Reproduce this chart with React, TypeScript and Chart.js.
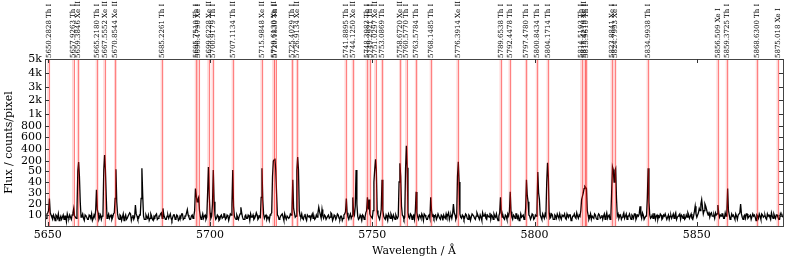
import React, { useEffect, useRef } from "react";
import { Chart, registerables } from "chart.js";

Chart.register(...registerables);

const WAVE_START = 5649.0;
const WAVE_STEP = 0.5;

// flux at whole steps (5649.0, 5649.5, ...)
const FLUX = [
  9, 7, 12, 25, 10, 6, 8, 10, 7, 5, 9, 8, 6, 9, 11, 7, 8, 10, 16, 8,
  14, 185, 22, 9, 7, 10, 8, 6, 9, 11, 7, 8, 33, 12, 8, 6, 10, 300, 28, 9,
  7, 10, 8, 12, 75, 11, 6, 9, 8, 5, 10, 7, 9, 11, 8, 6, 19, 9, 7, 10,
  90, 9, 6, 8, 10, 7, 9, 5, 8, 11, 7, 9, 12, 16, 8, 6, 10, 9, 7, 8,
  10, 7, 9, 6, 8, 11, 7, 9, 15, 8, 6, 10, 9, 34, 22, 26, 9, 8, 7, 10,
  8, 110, 12, 9, 65, 10, 7, 9, 6, 10, 8, 11, 7, 9, 8, 10, 65, 9, 6, 8,
  9, 17, 8, 6, 10, 7, 9, 11, 8, 6, 9, 10, 7, 8, 90, 11, 9, 6, 8, 10,
  12, 200, 240, 30, 9, 7, 10, 8, 11, 6, 9, 8, 10, 42, 12, 9, 265, 14, 8, 7,
  9, 7, 10, 8, 6, 11, 9, 7, 8, 17, 10, 15, 7, 9, 6, 10, 8, 11, 7, 9,
  8, 10, 6, 9, 7, 11, 25, 8, 9, 7, 26, 10, 65, 9, 7, 8, 10, 6, 12, 26,
  24, 9, 7, 40, 230, 14, 8, 10, 42, 9, 6, 8, 11, 7, 9, 10, 6, 8, 9, 165,
  18, 9, 8, 455, 12, 7, 10, 9, 6, 31, 8, 10, 7, 9, 11, 8, 6, 10, 26, 9,
  7, 10, 8, 11, 6, 9, 10, 7, 8, 12, 9, 7, 20, 10, 8, 190, 11, 7, 9, 8,
  10, 6, 9, 8, 11, 7, 9, 10, 6, 8, 12, 9, 7, 10, 8, 6, 9, 11, 8, 7,
  9, 26, 8, 7, 10, 6, 9, 31, 8, 10, 7, 11, 9, 6, 8, 10, 7, 42, 22, 9,
  8, 10, 7, 9, 49, 24, 8, 11, 7, 9, 175, 12, 8, 10, 6, 9, 11, 7, 8, 10,
  9, 7, 11, 8, 10, 6, 9, 8, 12, 7, 9, 24, 30, 36, 34, 10, 8, 6, 9, 11,
  7, 9, 10, 8, 6, 11, 9, 7, 10, 8, 115, 40, 90, 9, 7, 10, 8, 12, 9, 6,
  9, 8, 10, 7, 11, 8, 9, 18, 7, 10, 6, 9, 90, 10, 8, 7, 11, 9, 6, 8,
  10, 7, 9, 11, 8, 6, 10, 9, 7, 12, 8, 10, 6, 9, 11, 7, 8, 10, 9, 7,
  9, 18, 8, 12, 14, 24, 11, 20, 15, 10, 8, 12, 9, 7, 10, 19, 8, 9, 11, 7,
  9, 34, 10, 7, 9, 8, 11, 6, 10, 20, 8, 9, 7, 11, 8, 10, 6, 9, 8, 10,
  7, 9, 11, 8, 10, 6, 9, 8, 12, 7, 9, 10, 8, 6, 9, 8,
];

// flux at the half steps in between (5649.25, 5649.75, ...)
const FLUX_HALF = [
  6, 11, 14, 12, 8, 10, 5, 9, 11, 7, 6, 10, 9, 4, 8, 10, 6, 12, 9, 7,
  50, 45, 8, 11, 5, 9, 6, 10, 7, 5, 10, 14, 15, 6, 10, 9, 70, 80, 7, 11,
  9, 6, 11, 25, 22, 7, 10, 5, 11, 8, 6, 9, 12, 5, 10, 8, 11, 6, 10, 25,
  28, 6, 10, 7, 5, 11, 6, 9, 10, 6, 9, 11, 7, 10, 6, 9, 7, 11, 5, 10,
  6, 10, 5, 9, 11, 6, 9, 12, 10, 6, 9, 7, 14, 28, 24, 14, 6, 11, 9, 6,
  30, 28, 7, 20, 22, 6, 10, 5, 9, 7, 11, 6, 10, 5, 11, 20, 18, 7, 10, 6,
  11, 12, 6, 9, 7, 10, 5, 8, 10, 7, 12, 6, 9, 26, 24, 7, 10, 8, 5, 11,
  45, 220, 60, 10, 6, 9, 11, 5, 8, 9, 7, 11, 15, 16, 8, 60, 70, 9, 11, 6,
  11, 5, 9, 10, 9, 7, 6, 10, 12, 13, 7, 9, 10, 6, 9, 7, 12, 5, 10, 6,
  11, 7, 9, 5, 10, 13, 12, 6, 11, 9, 12, 18, 20, 6, 10, 5, 9, 8, 14, 15,
  11, 8, 14, 80, 50, 10, 6, 15, 14, 7, 10, 5, 9, 11, 6, 8, 10, 7, 40, 45,
  10, 6, 90, 100, 8, 11, 6, 10, 13, 12, 6, 9, 11, 5, 10, 6, 9, 7, 14, 10,
  9, 6, 11, 7, 10, 5, 8, 11, 10, 6, 10, 11, 12, 6, 45, 40, 8, 10, 6, 11,
  7, 10, 5, 11, 9, 6, 12, 8, 10, 5, 9, 11, 6, 9, 12, 10, 6, 9, 11, 5,
  12, 12, 10, 6, 9, 11, 13, 13, 6, 9, 11, 7, 5, 11, 9, 6, 16, 28, 10, 6,
  11, 6, 10, 16, 30, 10, 6, 9, 11, 40, 45, 7, 11, 6, 10, 7, 9, 11, 6, 9,
  11, 6, 9, 10, 5, 9, 11, 7, 9, 10, 14, 27, 34, 35, 14, 6, 11, 9, 7, 10,
  6, 11, 7, 10, 9, 6, 12, 9, 6, 30, 70, 60, 25, 11, 9, 6, 10, 7, 11, 9,
  11, 6, 9, 11, 6, 10, 11, 10, 12, 6, 9, 25, 22, 7, 10, 11, 6, 10, 9, 11,
  6, 10, 11, 6, 10, 9, 7, 11, 10, 6, 9, 11, 10, 7, 6, 10, 12, 7, 11, 6,
  13, 11, 10, 16, 20, 17, 14, 18, 12, 13, 11, 9, 10, 12, 11, 12, 10, 11, 7, 12,
  12, 14, 6, 11, 10, 6, 9, 10, 12, 11, 6, 10, 11, 7, 9, 6, 11, 10, 5, 9,
  11, 6, 10, 9, 7, 11, 10, 6, 9, 11, 7, 10, 6, 11, 10,
];

const LINE_WAVES = [
  5650.2828, 5657.9263, 5659.3846, 5665.218, 5667.5552, 5670.8544, 5685.2261,
  5695.751, 5696.479, 5699.6228, 5700.9179, 5707.1134, 5715.9848, 5719.613,
  5720.183, 5725.4029, 5726.9134, 5741.8895, 5744.125, 5748.3983, 5749.2921,
  5751.0297, 5753.0869, 5758.672, 5760.577, 5763.5784, 5768.1485, 5776.3914,
  5789.6538, 5792.4478, 5797.478, 5800.8434, 5804.1714, 5814.5193, 5815.4219,
  5815.961, 5823.8841, 5824.7993, 5834.9938, 5856.509, 5859.3725, 5868.63,
  5875.018,
];

const LINE_LABELS = [
  "5650.2828 Th I", "5657.9263 Th I", "5659.3846 Xe II", "5665.2180 Th I",
  "5667.5552 Xe II", "5670.8544 Xe II", "5685.2261 Th I", "5695.7510 Th I",
  "5696.4790 Xe I", "5699.6228 Xe II", "5700.9179 Th I", "5707.1134 Th II",
  "5715.9848 Xe II", "5719.6130 Xe II", "5720.1830 Th I", "5725.4029 Th I",
  "5726.9134 Xe II", "5741.8895 Th I", "5744.1250 Xe II", "5748.3983 Th I",
  "5749.2921 Th I", "5751.0297 Xe II", "5753.0869 Th I", "5758.6720 Xe II",
  "5760.5770 Th I", "5763.5784 Th I", "5768.1485 Th I", "5776.3914 Xe II",
  "5789.6538 Th I", "5792.4478 Th I", "5797.4780 Th I", "5800.8434 Th I",
  "5804.1714 Th I", "5814.5193 Th I", "5815.4219 Xe II", "5815.9610 Th I",
  "5823.8841 Xe I", "5824.7993 Xe I", "5834.9938 Th I", "5856.509 Xe I",
  "5859.3725 Th I", "5868.6300 Th I", "5875.018 Xe I",
];

const X_MIN = 5649.14;
const X_MAX = 5876.56;
const X_TICKS = [5650, 5700, 5750, 5800, 5850];

const Y_TICK_VALUES = [10, 20, 30, 40, 50, 200, 400, 600, 800, 1000, 2000, 3000, 4000, 5000];
const Y_TICK_LABELS = ["10", "20", "30", "40", "50", "200", "400", "600", "800", "1k", "2k", "3k", "4k", "5k"];

// piecewise axis scale: flux value -> axis unit
const Y_KNOT_VALUES = [0, 10, 20, 30, 40, 50, 200, 400, 600, 800, 1000, 2000, 3000, 4000, 5000];
const Y_KNOT_UNITS = [0, 11, 22, 33, 44, 55, 65, 77, 89, 100, 112, 126, 139, 153, 167];

function toAxis(v: number): number {
  if (v <= Y_KNOT_VALUES[0]) return Y_KNOT_UNITS[0];
  for (let k = 1; k < Y_KNOT_VALUES.length; k++) {
    if (v <= Y_KNOT_VALUES[k]) {
      const a = Y_KNOT_VALUES[k - 1];
      const b = Y_KNOT_VALUES[k];
      const t = (v - a) / (b - a);
      return Y_KNOT_UNITS[k - 1] + t * (Y_KNOT_UNITS[k] - Y_KNOT_UNITS[k - 1]);
    }
  }
  return Y_KNOT_UNITS[Y_KNOT_UNITS.length - 1];
}

const SERIF = '"DejaVu Serif", serif';

const decorPlugin = {
  id: "decor",
  afterDatasetsDraw(chart: any) {
    const { ctx, chartArea, scales } = chart;
    const xs = scales.x;
    ctx.save();
    ctx.beginPath();
    ctx.rect(chartArea.left, chartArea.top, chartArea.right - chartArea.left, chartArea.bottom - chartArea.top);
    ctx.clip();
    LINE_WAVES.forEach((w) => {
      const px = xs.getPixelForValue(w);
      ctx.fillStyle = "rgba(255,0,0,0.16)";
      ctx.fillRect(px - 1.5, chartArea.top, 3, chartArea.bottom - chartArea.top);
      ctx.strokeStyle = "rgba(255,0,0,0.4)";
      ctx.lineWidth = 1;
      ctx.beginPath();
      ctx.moveTo(Math.round(px) + 0.5, chartArea.top);
      ctx.lineTo(Math.round(px) + 0.5, chartArea.bottom);
      ctx.stroke();
    });
    ctx.restore();
  },
  afterDraw(chart: any) {
    const { ctx, chartArea, scales } = chart;
    const xs = scales.x;
    const ys = scales.y;
    const L = chartArea.left, R = chartArea.right, T = chartArea.top, B = chartArea.bottom;
    ctx.save();
    ctx.strokeStyle = "#444";
    ctx.lineWidth = 1;
    ctx.strokeRect(Math.round(L) + 0.5, Math.round(T) + 0.5, Math.round(R - L), Math.round(B - T));
    ctx.strokeStyle = "#333";
    ctx.beginPath();
    Y_TICK_VALUES.forEach((v) => {
      const py = Math.round(ys.getPixelForValue(toAxis(v))) + 0.5;
      ctx.moveTo(L, py);
      ctx.lineTo(L + 4, py);
      ctx.moveTo(R, py);
      ctx.lineTo(R - 4, py);
    });
    X_TICKS.forEach((v) => {
      const px = Math.round(xs.getPixelForValue(v)) + 0.5;
      ctx.moveTo(px, B);
      ctx.lineTo(px, B - 4);
      ctx.moveTo(px, T);
      ctx.lineTo(px, T + 4);
    });
    ctx.stroke();
    ctx.fillStyle = "#000";
    ctx.font = "7px " + SERIF;
    ctx.textAlign = "left";
    ctx.textBaseline = "middle";
    LINE_WAVES.forEach((w, i) => {
      const px = xs.getPixelForValue(w);
      ctx.save();
      ctx.translate(px, T - 1);
      ctx.rotate(-Math.PI / 2);
      ctx.fillText(LINE_LABELS[i], 0, 0);
      ctx.restore();
    });
    ctx.font = "11px " + SERIF;
    ctx.textAlign = "center";
    ctx.textBaseline = "middle";
    ctx.fillText("Wavelength / Å", (L + R) / 2, 251);
    ctx.save();
    ctx.translate(9, (T + B) / 2);
    ctx.rotate(-Math.PI / 2);
    ctx.fillText("Flux / counts/pixel", 0, 0);
    ctx.restore();
    ctx.restore();
  },
};

export default function App() {
  const ref = useRef<HTMLCanvasElement | null>(null);
  useEffect(() => {
    document.body.style.margin = "0";
    const canvas = ref.current;
    if (!canvas) return;
    const points: { x: number; y: number }[] = [];
    FLUX.forEach((f, i) => {
      points.push({ x: WAVE_START + i * WAVE_STEP, y: toAxis(f) });
      if (i < FLUX_HALF.length) {
        points.push({ x: WAVE_START + i * WAVE_STEP + WAVE_STEP / 2, y: toAxis(FLUX_HALF[i]) });
      }
    });
    const chart = new Chart(canvas, {
      type: "line",
      data: {
        datasets: [
          {
            data: points,
            borderColor: "#000",
            borderWidth: 1.3,
            pointRadius: 0,
            tension: 0,
            fill: false,
          },
        ],
      },
      options: {
        responsive: false,
        animation: false,
        layout: { padding: { top: 59, right: 6, left: 0, bottom: 0 } },
        plugins: { legend: { display: false }, tooltip: { enabled: false } },
        scales: {
          x: {
            type: "linear",
            min: X_MIN,
            max: X_MAX,
            afterBuildTicks: (s: any) => {
              s.ticks = X_TICKS.map((v) => ({ value: v }));
            },
            afterFit: (s: any) => {
              s.height = 37;
            },
            ticks: {
              autoSkip: false,
              maxRotation: 0,
              padding: 3,
              color: "#000",
              font: { family: SERIF, size: 11 },
              callback: (v: any) => String(v),
            },
            grid: { display: false, drawTicks: false },
            border: { display: false },
          },
          y: {
            type: "linear",
            min: 0,
            max: 167,
            afterBuildTicks: (s: any) => {
              s.ticks = Y_TICK_VALUES.map((v) => ({ value: toAxis(v) }));
            },
            afterFit: (s: any) => {
              s.width = 45;
            },
            ticks: {
              autoSkip: false,
              padding: 3,
              color: "#000",
              font: { family: SERIF, size: 11 },
              callback: (_v: any, idx: number) => Y_TICK_LABELS[idx],
            },
            grid: { display: false, drawTicks: false },
            border: { display: false },
          },
        },
      },
      plugins: [decorPlugin],
    });
    return () => chart.destroy();
  }, []);
  return <canvas ref={ref} width={789} height={263} style={{ display: "block" }} />;
}
